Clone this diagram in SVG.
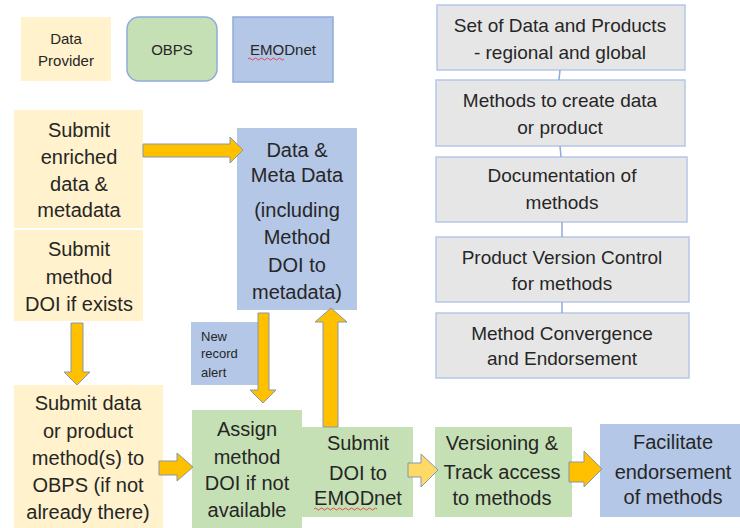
<svg xmlns="http://www.w3.org/2000/svg" width="740" height="528" viewBox="0 0 740 528">
<defs>
<style>
text{font-family:"Liberation Sans",Arial,sans-serif;fill:#262626;text-anchor:middle}
.t{font-size:20px}
.g{font-size:19px}
.l{font-size:15px}
.s{font-size:13px;text-anchor:start}
.dp{fill:#FFF2CC}
.ob{fill:#C5E0B4}
.em{fill:#B4C7E7}
.gr{fill:#E7E6E6;stroke:#B4C7E7;stroke-width:1.5}
.ar{fill:#FFC000;stroke:#8497B0;stroke-width:1}
.al{fill:#FFD966;stroke:#8497B0;stroke-width:1}
.cn{stroke:#8FAADC;stroke-width:1.5;fill:none}
</style>
</defs>
<rect width="740" height="528" fill="#FFFFFF"/>
<g id="legend-data-provider"><rect class="dp" x="21" y="17" width="90" height="64"/><text class="l" x="66" y="44">Data</text><text class="l" x="66" y="66">Provider</text></g>
<g id="legend-obps"><rect class="ob" x="127" y="17" width="90" height="64" rx="12" stroke="#8FAADC" stroke-width="1.5"/><text class="l" x="172" y="55">OBPS</text></g>
<g id="legend-emodnet"><rect class="em" x="233" y="17" width="100" height="65" stroke="#8FAADC" stroke-width="1.5"/><text class="l" x="283" y="55">EMODnet</text><path d="M248,59 q1.5,-2 3,0 t3,0 t3,0 t3,0 t3,0 t3,0 t3,0 t3,0 t3,0 t3,0 t3,0 t3,0" stroke="#E03030" stroke-width="0.8" fill="none"/></g>

<g id="submit-enriched"><rect class="dp" x="14" y="110" width="129" height="118"/>
<text class="t" x="79" y="137">Submit</text><text class="t" x="79" y="164">enriched</text><text class="t" x="79" y="191">data &amp;</text><text class="t" x="79" y="217">metadata</text></g>
<g id="submit-method-doi"><rect class="dp" x="14" y="230" width="129" height="91"/>
<text class="t" x="79" y="256">Submit</text><text class="t" x="79" y="284">method</text><text class="t" x="79" y="311">DOI if exists</text></g>
<g id="submit-data-obps"><rect class="dp" x="14" y="385" width="149" height="143"/>
<text class="t" x="88" y="410">Submit data</text><text class="t" x="88" y="438">or product</text><text class="t" x="88" y="465">method(s) to</text><text class="t" x="88" y="492">OBPS (if not</text><text class="t" x="88" y="519">already there)</text></g>
<g id="data-metadata"><rect class="em" x="237" y="128" width="120" height="182"/>
<text class="t" x="297" y="157">Data &amp;</text><text class="t" x="297" y="182">Meta Data</text><text class="t" x="297" y="217">(including</text><text class="t" x="297" y="244">Method</text><text class="t" x="297" y="272">DOI to</text><text class="t" x="297" y="299">metadata)</text></g>
<g id="new-record-alert"><rect class="em" x="191" y="322" width="67" height="63"/>
<text class="s" x="201" y="341">New</text><text class="s" x="201" y="358">record</text><text class="s" x="201" y="377">alert</text></g>
<g id="assign-doi"><rect class="ob" x="192" y="410" width="110" height="118"/>
<text class="t" x="247" y="436">Assign</text><text class="t" x="247" y="464">method</text><text class="t" x="247" y="490">DOI if not</text><text class="t" x="247" y="517">available</text></g>
<g id="submit-doi-emodnet"><rect class="ob" x="302" y="427" width="111" height="90"/>
<text class="t" x="358" y="450">Submit</text><text class="t" x="358" y="480">DOI to</text><text class="t" x="358" y="505">EMODnet</text><path d="M314,509 q1.5,-2 3,0 t3,0 t3,0 t3,0 t3,0 t3,0 t3,0 t3,0 t3,0 t3,0 t3,0 t3,0 t3,0 t3,0 t3,0 t3,0 t3,0 t3,0 t3,0 t3,0 t3,0" stroke="#E03030" stroke-width="0.8" fill="none"/></g>
<g id="versioning"><rect class="ob" x="435" y="427" width="137" height="90"/>
<text class="t" x="502" y="450">Versioning &amp;</text><text class="t" x="502" y="479">Track access</text><text class="t" x="502" y="505">to methods</text></g>
<g id="facilitate"><rect class="em" x="600" y="424" width="140" height="93"/>
<text class="t" x="673" y="449">Facilitate</text><text class="t" x="673" y="479">endorsement</text><text class="t" x="673" y="504">of methods</text></g>

<g id="set-data-products"><rect class="gr" x="437" y="5" width="248" height="65"/><text class="g" x="560" y="32">Set of Data and Products</text><text class="g" x="560" y="59">- regional and global</text></g>
<g id="methods-create"><rect class="gr" x="436" y="80" width="249" height="66"/><text class="g" x="560" y="107">Methods to create data</text><text class="g" x="560" y="134">or product</text></g>
<g id="documentation"><rect class="gr" x="436" y="157" width="251" height="65"/><text class="g" x="562" y="182">Documentation of</text><text class="g" x="562" y="209">methods</text></g>
<g id="version-control"><rect class="gr" x="436" y="237" width="253" height="65"/><text class="g" x="562" y="264">Product Version Control</text><text class="g" x="562" y="290">for methods</text></g>
<g id="convergence"><rect class="gr" x="436" y="313" width="253" height="65"/><text class="g" x="562" y="340">Method Convergence</text><text class="g" x="562" y="365">and Endorsement</text></g>

<g id="connectors">
<polygon class="ar" points="143,144 230,144 230,137 243,150 230,163 230,157 143,157"/>
<polygon class="ar" points="71,323 83,323 83,372 90,372 77,385 64,372 71,372"/>
<polygon class="ar" points="159,461 177,461 177,453 193,467 177,481 177,475 159,475"/>
<polygon class="ar" points="258,313 269,313 269,390 276,390 263,403 250,390 258,390"/>
<polygon class="ar" points="323,427 338,427 338,322 347,322 331,308 315,322 323,322"/>
<polygon class="al" points="408,463 421,463 421,454 438,470 421,487 421,477 408,477"/>
<polygon class="ar" points="569,462 584,462 584,451 602,469 584,487 584,482 569,482"/>
<path class="cn" d="M560,70 L559,80"/>
<path class="cn" d="M560,146 L561,157"/>
<path class="cn" d="M562,222 L562,237"/>
<path class="cn" d="M562,302 L562,313"/>
</g>
</svg>
